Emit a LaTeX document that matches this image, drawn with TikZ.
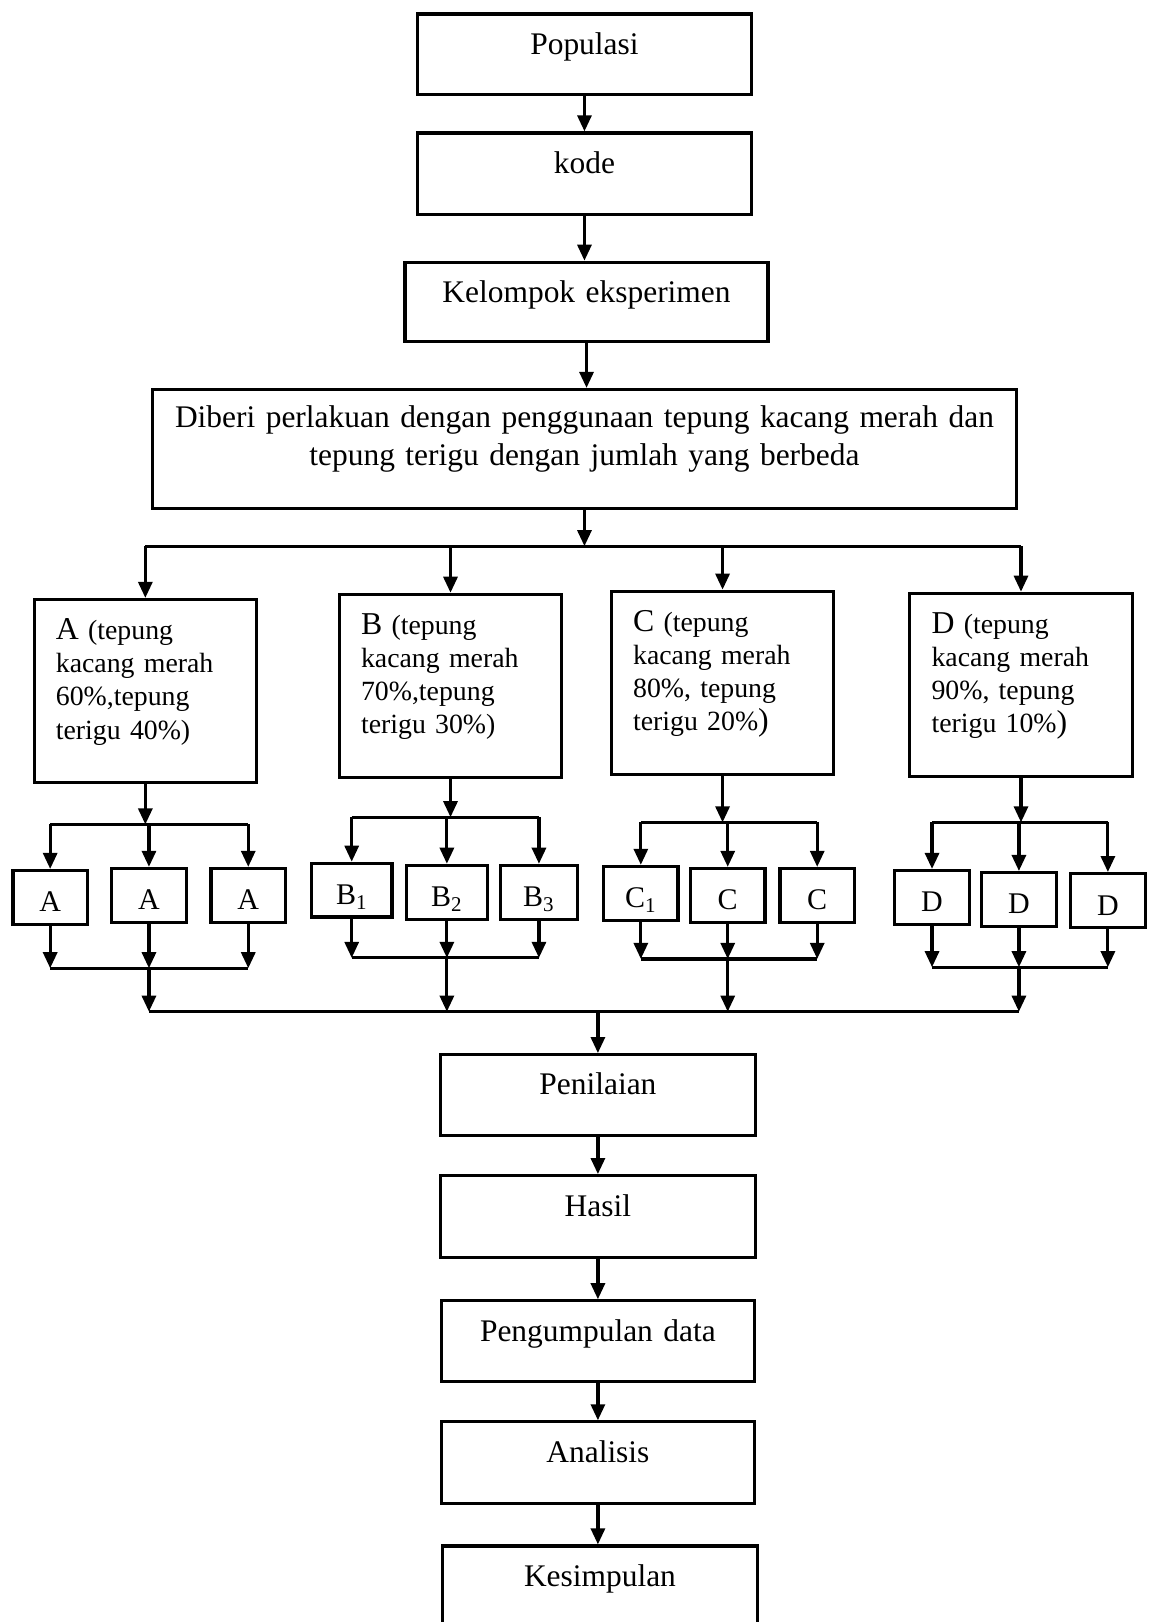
\documentclass[tikz,border=0pt]{standalone}
\usepackage{fontspec}
\setmainfont{Liberation Serif}
\usetikzlibrary{arrows.meta}

\newcommand{\hrf}[1]{{\fontsize{17.5}{18.2}\selectfont #1}}

\tikzset{
  box/.style={draw, line width=1.75pt, anchor=north, inner xsep=0.2cm, inner ysep=0pt,
    align=center, text height=0.78cm, text depth=0.78cm,
    font=\fontsize{17.3}{20.5}\selectfont},
  grp/.style={box, align=left, inner xsep=0.42cm, text width=3.46cm,
    text depth=2.76cm, font=\fontsize{15.3}{18.2}\selectfont},
  sub/.style={box, inner xsep=0pt, minimum width=1.44cm, text height=0.8cm, text depth=0.24cm,
    font=\fontsize{16.5}{20}\selectfont},
  arr/.style={-{Triangle[length=0.31cm,width=0.27cm]}, line width=1.75pt},
  ln/.style={line width=1.75pt}
}

\begin{document}
\begin{tikzpicture}[x=0.02cm,y=-0.02cm]
\useasboundingbox (0,0) rectangle (1114,1568);

% alur atas
\node[box, text width=6.06cm] (pop) at (565,12) {Populasi};
\node[box, text width=6.06cm, text depth=0.8cm] (kode) at (565,127) {kode};
\node[box, text width=6.62cm, text depth=0.76cm] (klp) at (567,252) {Kelompok eksperimen};
\node[box, text width=16.32cm, text height=0.74cm, text depth=1.56cm] (diberi) at (565,375)
  {Diberi perlakuan dengan penggunaan tepung kacang merah dan\\tepung terigu dengan jumlah yang berbeda};

% kelompok perlakuan
\node[grp] (grpA) at (140.5,578) {\hrf{A} (tepung\\kacang merah\\60\%,tepung\\terigu 40\%)};
\node[grp] (grpB) at (435.5,573) {\hrf{B} (tepung\\kacang merah\\70\%,tepung\\terigu 30\%)};
\node[grp] (grpC) at (698.5,570) {\hrf{C} (tepung\\kacang merah\\80\%, tepung\\terigu 20\%\hrf{)}};
\node[grp] (grpD) at (987,572) {\hrf{D} (tepung\\kacang merah\\90\%, tepung\\terigu 10\%\hrf{)}};

% ulangan
\node[sub] (A1) at (48.5,840) {A};
\node[sub] (A2) at (144,838) {A};
\node[sub] (A3) at (240,838) {A};
\node[sub, minimum width=1.56cm] (B1) at (340,833) {B\textsubscript{1}};
\node[sub, minimum width=1.56cm] (B2) at (432,835) {B\textsubscript{2}};
\node[sub, minimum width=1.48cm] (B3) at (521,835) {B\textsubscript{3}};
\node[sub] (C1) at (619.5,836) {C\textsubscript{1}};
\node[sub] (C2) at (703.5,838) {C};
\node[sub] (C3) at (790,838) {C};
\node[sub] (D1) at (901,840) {D};
\node[sub] (D2) at (985,842) {D};
\node[sub] (D3) at (1071,843) {D};

% alur bawah
\node[box, text width=5.68cm] (pen) at (578,1018) {Penilaian};
\node[box, text width=5.68cm, text depth=0.8cm] (has) at (578,1135) {Hasil};
\node[box, text width=5.66cm] (peng) at (578,1256) {Pengumpulan data};
\node[box, text width=5.66cm, text depth=0.8cm] (ana) at (578,1373) {Analisis};
\node[box, text width=5.7cm] (kes) at (580,1493) {Kesimpulan};

\coordinate (busT) at (0,528);
\coordinate (busB) at (0,978);
\coordinate (splA) at (0,797);
\coordinate (splB) at (0,790);
\coordinate (splC) at (0,795);
\coordinate (splD) at (0,795);
\coordinate (mrgA) at (0,936);
\coordinate (mrgB) at (0,926);
\coordinate (mrgC) at (0,927);
\coordinate (mrgD) at (0,935);

\foreach \a/\b in {pop/kode, kode/klp, klp/diberi}
  \draw[arr] (\a.south) -- (\a.south |- \b.north);
\draw[arr] (diberi.south) -- (diberi.south |- busT);
\draw[ln] (grpA.north |- busT) -- (grpD.north |- busT);
\foreach \g in {A,B,C,D}
  \draw[arr] (grp\g.north |- busT) -- (grp\g.north);

\foreach \g in {A,B,C,D}{
  \draw[arr] (grp\g.south) -- (grp\g.south |- spl\g);
  \draw[ln] (\g1.north |- spl\g) -- (\g3.north |- spl\g);
  \foreach \i in {1,2,3}{
    \draw[arr] (\g\i.north |- spl\g) -- (\g\i.north);
    \draw[arr] (\g\i.south) -- (\g\i.south |- mrg\g);
  }
  \draw[ln] (\g1.south |- mrg\g) -- (\g3.south |- mrg\g);
  \draw[arr] (\g2.south |- mrg\g) -- (\g2.south |- busB);
}
\draw[ln] (A2.south |- busB) -- (D2.south |- busB);
\draw[arr] (pen.north |- busB) -- (pen.north);

\foreach \a/\b in {pen/has, has/peng, peng/ana, ana/kes}
  \draw[arr] (\a.south) -- (\a.south |- \b.north);
\end{tikzpicture}
\end{document}
